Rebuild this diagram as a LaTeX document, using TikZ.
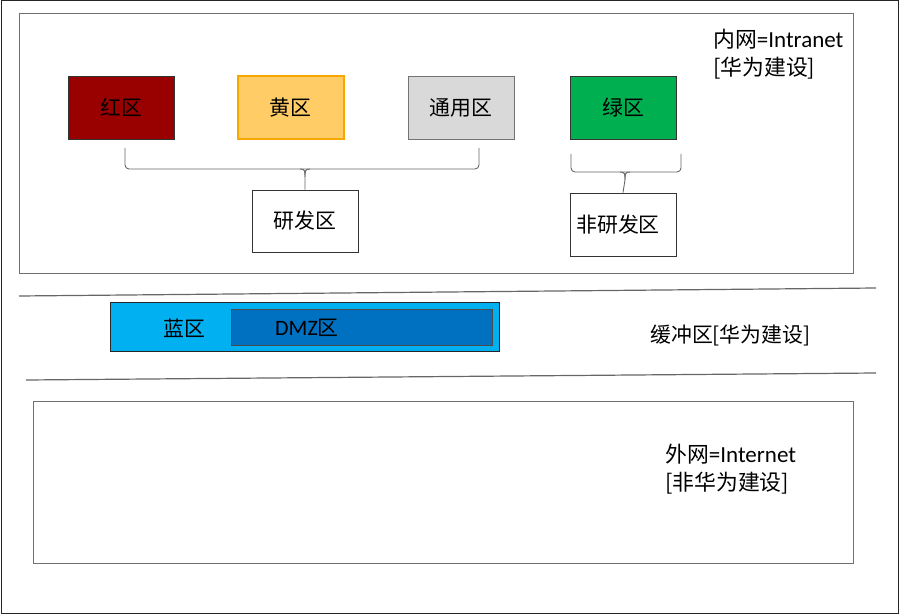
\documentclass[tikz,border=0pt]{standalone}
\usepackage{fontspec}
\setmainfont{Carlito}
\newfontfamily\cjk{Noto Sans CJK SC}[Scale=0.95]
\usetikzlibrary{calc}
\definecolor{cred}{HTML}{990000}
\definecolor{cyel}{HTML}{FFCC66}
\definecolor{cyelb}{HTML}{F7A800}
\definecolor{cgray}{HTML}{D9D9D9}
\definecolor{cgrn}{HTML}{00B050}
\definecolor{cblue}{HTML}{00B0F0}
\definecolor{cdmz}{HTML}{0070C0}
\definecolor{frame}{HTML}{707070}
\tikzset{
  zone/.style={draw=black!80, line width=0.8pt, minimum width=106pt, minimum height=63pt, inner sep=0pt, font=\fontsize{22}{26}\selectfont\cjk},
  area/.style={draw=frame, line width=0.8pt},
  brc/.style={draw=black!60, line width=0.9pt},
  sep/.style={draw=black!60, line width=1.2pt},
  lbl/.style={font=\fontsize{23}{28}\selectfont, align=left, anchor=north west, inner sep=0pt},
}
\begin{document}
\begin{tikzpicture}[x=1pt,y=-1pt]
\useasboundingbox (0,0) rectangle (900,615);
\draw[line width=1pt, black!85] (1,1) rectangle (898,613);
% areas
\draw[area] (19,13) rectangle (853,273);
\draw[area] (33,401) rectangle (853,563);
% separators
\coordinate (s1a) at (19,296); \coordinate (s1b) at (876,288);
\coordinate (s2a) at (26,380); \coordinate (s2b) at (876,373);
\draw[sep] (s1a) -- (s1b);
\draw[sep] (s2a) -- (s2b);
% zones
\node[zone, fill=cred] (red) at (121,107.5) {红区};
\node[zone, fill=cyel, draw=cyelb, line width=2pt] (yel) at (290.5,108) {黄区};
\node[zone, fill=cgray, draw=black!55] (gen) at (461,107.5) {通用区};
\node[zone, fill=cgrn] (grn) at (623,107.5) {绿区};
\node[zone, fill=white, minimum height=62pt] (rd) at (305,221) {研发区};
\node[zone, fill=white, minimum height=63pt] (nrd) at (623,224.5) {\hspace*{-10pt}非研发区};
% braces
\coordinate (b1l) at (125,148);
\coordinate (b1r) at (479,148);
\draw[brc, rounded corners=4pt] (b1l) -- (125,169) -- (479,169) -- (b1r);
\draw[brc] (300,169) .. controls (305,169) and (305,171) .. (305,177) -- (rd.north);
\draw[brc] (310,169) .. controls (305,169) and (305,171) .. (305,177);
\coordinate (b2l) at (571,154);
\coordinate (b2r) at (681,154);
\draw[brc, rounded corners=4pt] (b2l) -- (571,172) -- (681,172) -- (b2r);
\draw[brc] (620,172) .. controls (625,172) and (625,174) .. (625,180) -- (nrd.north);
\draw[brc] (630,172) .. controls (625,172) and (625,174) .. (625,180);
% DMZ
\node[draw=black!85, fill=cblue, line width=0.8pt, minimum width=389pt, minimum height=49pt, inner sep=0pt] (blue) at (305,327) {};
\node[draw=black!70, fill=cdmz, line width=0.8pt, minimum width=261pt, minimum height=36pt, inner sep=0pt] (dmz) at (362,327.5) {};
\node[font=\fontsize{22}{26}\selectfont\cjk, inner sep=0pt] (bluel) at (184,328) {蓝区};
\node[font=\fontsize{22}{26}\selectfont, inner sep=0pt, anchor=west] (dmzl) at (275,328) {DMZ{\cjk 区}};
% labels
\node[lbl] (intra) at (713,29) {{\cjk 内网}=Intranet\\{\cjk [华为建设]}};
\node[font=\fontsize{22}{26}\selectfont\cjk, inner sep=0pt, anchor=west] (buf) at (650,335) {缓冲区[华为建设]};
\node[lbl] (inter) at (665,444) {{\cjk 外网}=Internet\\{\cjk [非华为建设]}};
\end{tikzpicture}
\end{document}
